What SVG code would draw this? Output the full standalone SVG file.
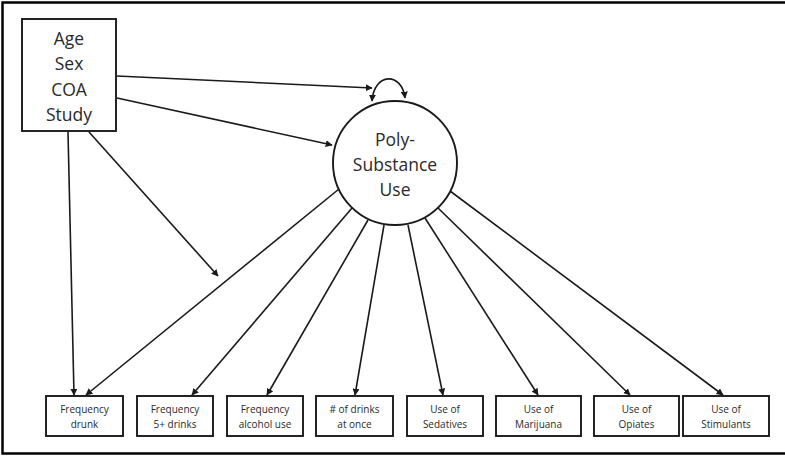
<svg xmlns="http://www.w3.org/2000/svg" width="785" height="457" viewBox="0 0 785 457">
<style>
.box{fill:#fff;stroke:#1a1a1a;stroke-width:1.9}
.circ{fill:#fff;stroke:#1a1a1a;stroke-width:1.9}
.big{font-family:"Open Sans","Liberation Sans",sans-serif;font-size:17.5px;fill:#2a2a2a;text-anchor:middle}
.sm{font-family:"Open Sans","Liberation Sans",sans-serif;font-size:10px;fill:#2a2a2a;text-anchor:middle}
.edge{fill:none;stroke:#1a1a1a;stroke-width:1.6}
</style>
<defs>
<marker id="ah" viewBox="0 0 10 10" refX="9" refY="5" markerWidth="7" markerHeight="7" markerUnits="userSpaceOnUse" orient="auto">
<path d="M0,0 L10,5 L0,10 z" fill="#1a1a1a"/>
</marker>
<marker id="ahs" viewBox="0 0 10 10" refX="1" refY="5" markerWidth="7" markerHeight="7" markerUnits="userSpaceOnUse" orient="auto">
<path d="M10,0 L0,5 L10,10 z" fill="#1a1a1a"/>
</marker>
</defs>
<rect x="2.5" y="2.5" width="790" height="451" fill="none" stroke="#000" stroke-width="2.5"/>
<g id="connectors">
<path class="edge" marker-end="url(#ah)" d="M117,76 L372,88"/>
<path class="edge" marker-end="url(#ah)" d="M117,98 L332,145"/>
<path class="edge" marker-end="url(#ah)" marker-start="url(#ahs)" d="M372,101 C374,72 402,72 405,98"/>
<path class="edge" marker-end="url(#ah)" d="M68,132 L74,395"/>
<path class="edge" marker-end="url(#ah)" d="M89,132 L218,276"/>
<path class="edge" marker-end="url(#ah)" d="M339,189 L86,395"/>
<path class="edge" marker-end="url(#ah)" d="M352,208 L192,395"/>
<path class="edge" marker-end="url(#ah)" d="M368,220 L267,395"/>
<path class="edge" marker-end="url(#ah)" d="M384,225 L355,395"/>
<path class="edge" marker-end="url(#ah)" d="M408,225 L443,395"/>
<path class="edge" marker-end="url(#ah)" d="M425,218 L538,395"/>
<path class="edge" marker-end="url(#ah)" d="M438,208 L630,395"/>
<path class="edge" marker-end="url(#ah)" d="M450,191 L723,395"/>
</g>
<g id="covariates">
<rect class="box" x="22" y="19" width="94" height="112"/>
<text class="big" x="69" y="45">Age</text>
<text class="big" x="69" y="70">Sex</text>
<text class="big" x="69" y="96">COA</text>
<text class="big" x="69" y="121">Study</text>
</g>
<g id="polysubstance">
<circle class="circ" cx="395" cy="163" r="62"/>
<text class="big" x="395" y="146">Poly-</text>
<text class="big" x="395" y="171">Substance</text>
<text class="big" x="395" y="196">Use</text>
</g>
<g id="freq-drunk">
<rect class="box" x="46" y="396" width="77" height="40"/>
<text class="sm" x="84.5" y="413">Frequency</text>
<text class="sm" x="84.5" y="428">drunk</text>
</g>
<g id="freq-5plus">
<rect class="box" x="137" y="396" width="76" height="40"/>
<text class="sm" x="175" y="413">Frequency</text>
<text class="sm" x="175" y="428">5+ drinks</text>
</g>
<g id="freq-alcohol">
<rect class="box" x="227" y="396" width="76" height="40"/>
<text class="sm" x="265" y="413">Frequency</text>
<text class="sm" x="265" y="428">alcohol use</text>
</g>
<g id="drinks-once">
<rect class="box" x="316" y="396" width="77" height="40"/>
<text class="sm" x="354.5" y="413"># of drinks</text>
<text class="sm" x="354.5" y="428">at once</text>
</g>
<g id="sedatives">
<rect class="box" x="407" y="396" width="76" height="40"/>
<text class="sm" x="445" y="413">Use of</text>
<text class="sm" x="445" y="428">Sedatives</text>
</g>
<g id="marijuana">
<rect class="box" x="496" y="396" width="85" height="40"/>
<text class="sm" x="538.5" y="413">Use of</text>
<text class="sm" x="538.5" y="428">Marijuana</text>
</g>
<g id="opiates">
<rect class="box" x="594" y="396" width="85" height="40"/>
<text class="sm" x="636.5" y="413">Use of</text>
<text class="sm" x="636.5" y="428">Opiates</text>
</g>
<g id="stimulants">
<rect class="box" x="683" y="396" width="86" height="40"/>
<text class="sm" x="726" y="413">Use of</text>
<text class="sm" x="726" y="428">Stimulants</text>
</g>
</svg>
